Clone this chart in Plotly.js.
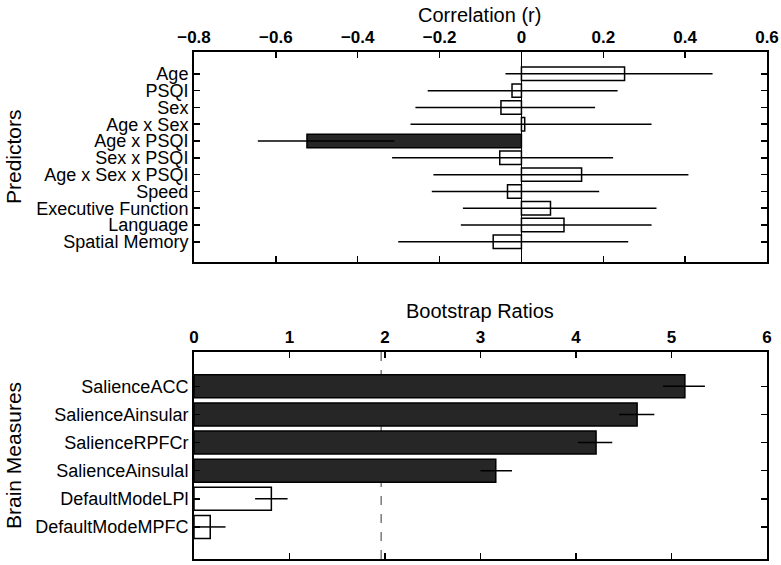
<!DOCTYPE html>
<html>
<head>
<meta charset="utf-8">
<script src="https://cdn.plot.ly/plotly-3.0.1.min.js"></script>
<style>
  html, body { margin: 0; padding: 0; background: #fff; }
  #chart { width: 781px; height: 565px; }
</style>
</head>
<body>
<div id="chart"></div>
<script>
// Predictor correlations with 95% confidence limits
const predictors = ["Age", "PSQI", "Sex", "Age x Sex", "Age x PSQI", "Sex x PSQI",
  "Age x Sex x PSQI", "Speed", "Executive Function", "Language", "Spatial Memory"];
const corrR    = [0.252, -0.023, -0.050, 0.008, -0.524, -0.053, 0.147, -0.034, 0.071, 0.104, -0.069];
const corrLow  = [-0.039, -0.229, -0.259, -0.271, -0.644, -0.316, -0.215, -0.219, -0.143, -0.148, -0.301];
const corrHigh = [0.467, 0.235, 0.180, 0.318, -0.310, 0.224, 0.408, 0.190, 0.330, 0.318, 0.261];

// Brain measure bootstrap ratios with their spread
const brainMeasures = ["SalienceACC", "SalienceAinsular", "SalienceRPFCr", "SalienceAinsulal",
  "DefaultModeLPl", "DefaultModeMPFC"];
const bootRatio = [5.14, 4.64, 4.21, 3.16, 0.81, 0.17];
const bootLow   = [4.91, 4.45, 4.02, 3.00, 0.64, 0.00];
const bootHigh  = [5.35, 4.82, 4.38, 3.33, 0.98, 0.33];
const bootThreshold = 1.96;

const FONT = "Liberation Sans, Arial, Helvetica, sans-serif";
const DARK = "#262626";

// Filled bars mark reliable effects: CI excluding zero, or ratio above threshold
const corrColors = corrR.map((v, i) => (corrLow[i] > 0 || corrHigh[i] < 0) ? DARK : "#ffffff");
const bootColors = bootRatio.map(v => v > bootThreshold ? DARK : "#ffffff");

const corrTrace = {
  type: "bar", orientation: "h",
  x: corrR, y: predictors, xaxis: "x", yaxis: "y",
  width: 0.8,
  marker: { color: corrColors, line: { color: "#000", width: 1.5 } },
  error_x: {
    type: "data", symmetric: false,
    array: corrHigh.map((h, i) => h - corrR[i]),
    arrayminus: corrLow.map((l, i) => corrR[i] - l),
    width: 0, thickness: 1.5, color: "#000"
  },
  hoverinfo: "skip"
};

const bootTrace = {
  type: "bar", orientation: "h",
  x: bootRatio, y: brainMeasures, xaxis: "x2", yaxis: "y2",
  width: 0.82,
  marker: { color: bootColors, line: { color: "#000", width: 1.5 } },
  error_x: {
    type: "data", symmetric: false,
    array: bootHigh.map((h, i) => h - bootRatio[i]),
    arrayminus: bootLow.map((l, i) => bootRatio[i] - l),
    width: 0, thickness: 1.5, color: "#000"
  },
  hoverinfo: "skip"
};

const W = 781, H = 565;
const xDom = [194 / W, 767 / W];
const topDom = [1 - 262 / H, 1 - 52 / H];
const botDom = [1 - 559 / H, 1 - 352 / H];

const tickFont = { family: FONT, size: 17, color: "#000", weight: "bold" };
const catFont = { family: FONT, size: 18, color: "#000" };

function xAxis(extra) {
  return Object.assign({
    domain: xDom, side: "top",
    showline: true, linewidth: 2, linecolor: "#000", mirror: "ticks",
    ticks: "inside", ticklen: 6, tickwidth: 1.5, tickcolor: "#000",
    showgrid: false, tickfont: tickFont, fixedrange: true
  }, extra);
}
function yAxis(labels, extra) {
  return Object.assign({
    type: "category",
    tickmode: "array", tickvals: labels, ticktext: labels,
    showline: true, linewidth: 2, linecolor: "#000", mirror: "ticks",
    ticks: "inside", ticklen: 6, tickwidth: 1.5, tickcolor: "#000",
    showgrid: false, zeroline: false, tickfont: catFont, fixedrange: true
  }, extra);
}

const layout = {
  width: W, height: H,
  margin: { l: 0, r: 0, t: 0, b: 0 },
  paper_bgcolor: "#fff", plot_bgcolor: "#fff",
  showlegend: false,
  font: { family: FONT, color: "#000" },
  xaxis: xAxis({ anchor: "y", range: [-0.8, 0.6], dtick: 0.2, tick0: 0,
    zeroline: true, zerolinecolor: "#000", zerolinewidth: 1.5 }),
  yaxis: yAxis(predictors, { anchor: "x", domain: topDom, range: [predictors.length - 1 + 1.2, -1.3] }),
  xaxis2: xAxis({ anchor: "y2", range: [0, 6], dtick: 1, tick0: 0, zeroline: false }),
  yaxis2: yAxis(brainMeasures, { anchor: "x2", domain: botDom, range: [brainMeasures.length - 1 + 1.14, -1.22] }),
  shapes: [{
    type: "line", xref: "x2", yref: "y2 domain",
    x0: bootThreshold, x1: bootThreshold, y0: 0, y1: 1,
    line: { color: "#7a7a7a", width: 1.5, dash: "dash" }, layer: "below"
  }],
  annotations: [
    { text: "Correlation (r)", xref: "paper", yref: "paper", x: 480 / W, y: 1 - 15 / H,
      xanchor: "center", yanchor: "middle", showarrow: false,
      font: { family: FONT, size: 20, color: "#000" } },
    { text: "Bootstrap Ratios", xref: "paper", yref: "paper", x: 480 / W, y: 1 - 311 / H,
      xanchor: "center", yanchor: "middle", showarrow: false,
      font: { family: FONT, size: 20, color: "#000" } },
    { text: "Predictors", xref: "paper", yref: "paper", x: 13 / W, y: 1 - 157 / H,
      xanchor: "center", yanchor: "middle", textangle: -90, showarrow: false,
      font: { family: FONT, size: 21, color: "#000" } },
    { text: "Brain Measures", xref: "paper", yref: "paper", x: 13 / W, y: 1 - 456 / H,
      xanchor: "center", yanchor: "middle", textangle: -90, showarrow: false,
      font: { family: FONT, size: 21, color: "#000" } }
  ]
};

Plotly.newPlot("chart", [corrTrace, bootTrace], layout, { staticPlot: true, displayModeBar: false });
</script>
</body>
</html>
